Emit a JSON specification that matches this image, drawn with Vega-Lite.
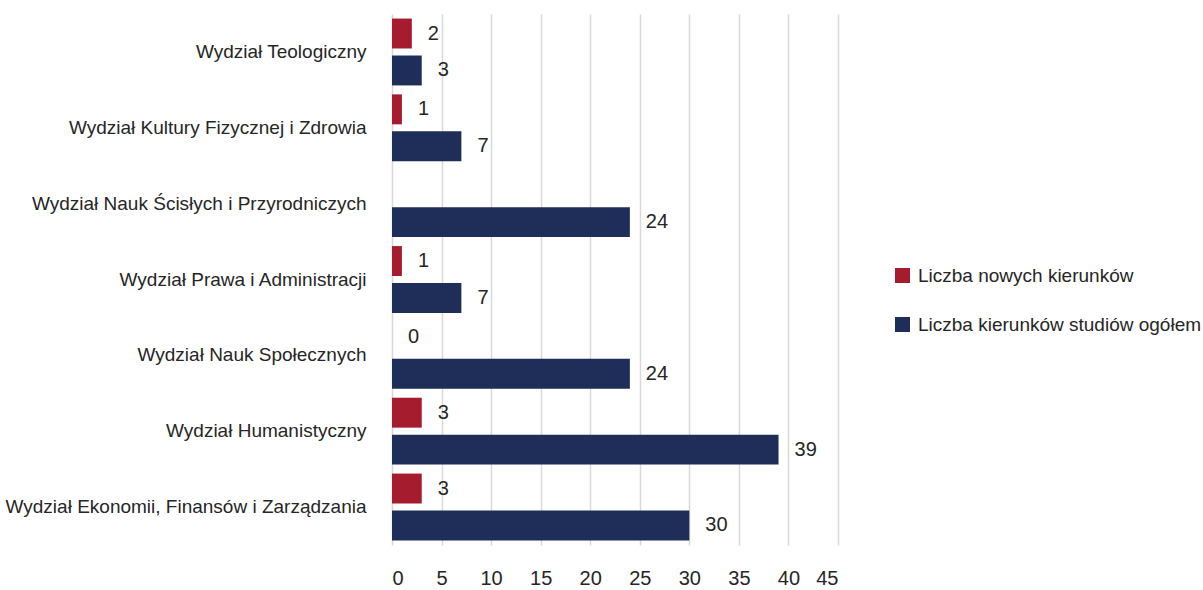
{
  "$schema": "https://vega.github.io/schema/vega-lite/v6.json",
  "width": 446,
  "height": 531,
  "autosize": "none",
  "padding": {"left": 392, "top": 14, "right": 365, "bottom": 45},
  "background": "white",
  "config": {
    "font": "Liberation Sans",
    "view": {"stroke": null}
  },
  "data": {
    "values": [
      {"wydzial": "Wydział Teologiczny", "seria": "Liczba nowych kierunków", "wartosc": 2},
      {"wydzial": "Wydział Teologiczny", "seria": "Liczba kierunków studiów ogółem", "wartosc": 3},
      {"wydzial": "Wydział Kultury Fizycznej i Zdrowia", "seria": "Liczba nowych kierunków", "wartosc": 1},
      {"wydzial": "Wydział Kultury Fizycznej i Zdrowia", "seria": "Liczba kierunków studiów ogółem", "wartosc": 7},
      {"wydzial": "Wydział Nauk Ścisłych i Przyrodniczych", "seria": "Liczba kierunków studiów ogółem", "wartosc": 24},
      {"wydzial": "Wydział Prawa i Administracji", "seria": "Liczba nowych kierunków", "wartosc": 1},
      {"wydzial": "Wydział Prawa i Administracji", "seria": "Liczba kierunków studiów ogółem", "wartosc": 7},
      {"wydzial": "Wydział Nauk Społecznych", "seria": "Liczba nowych kierunków", "wartosc": 0},
      {"wydzial": "Wydział Nauk Społecznych", "seria": "Liczba kierunków studiów ogółem", "wartosc": 24},
      {"wydzial": "Wydział Humanistyczny", "seria": "Liczba nowych kierunków", "wartosc": 3},
      {"wydzial": "Wydział Humanistyczny", "seria": "Liczba kierunków studiów ogółem", "wartosc": 39},
      {"wydzial": "Wydział Ekonomii, Finansów i Zarządzania", "seria": "Liczba nowych kierunków", "wartosc": 3},
      {"wydzial": "Wydział Ekonomii, Finansów i Zarządzania", "seria": "Liczba kierunków studiów ogółem", "wartosc": 30}
    ]
  },
  "encoding": {
    "y": {
      "field": "wydzial",
      "type": "nominal",
      "sort": null,
      "title": null,
      "scale": {"paddingInner": 0.118, "paddingOuter": 0.06},
      "axis": {
        "domain": false,
        "ticks": false,
        "labelFontSize": 19,
        "labelColor": "#262626",
        "labelPadding": 26,
        "labelLimit": 400
      }
    },
    "yOffset": {
      "field": "seria",
      "type": "nominal",
      "sort": ["Liczba nowych kierunków", "Liczba kierunków studiów ogółem"],
      "scale": {"paddingInner": 0.19, "paddingOuter": 0}
    },
    "x": {
      "field": "wartosc",
      "type": "quantitative",
      "title": null,
      "scale": {"domain": [0, 45], "nice": false},
      "axis": {
        "values": [0, 5, 10, 15, 20, 25, 30, 35, 40, 45],
        "domain": false,
        "ticks": false,
        "grid": true,
        "gridColor": "#d9d9d9",
        "gridWidth": 1.5,
        "labelFontSize": 20,
        "labelColor": "#262626",
        "labelPadding": 23
      }
    },
    "color": {
      "field": "seria",
      "type": "nominal",
      "sort": ["Liczba nowych kierunków", "Liczba kierunków studiów ogółem"],
      "scale": {
        "domain": ["Liczba nowych kierunków", "Liczba kierunków studiów ogółem"],
        "range": ["#A51C2F", "#1F2D59"]
      },
      "legend": {
        "title": null,
        "orient": "none",
        "legendX": 501,
        "legendY": 252,
        "symbolType": "square",
        "symbolSize": 225,
        "symbolStrokeWidth": 0,
        "labelFontSize": 19,
        "labelColor": "#262626",
        "labelOffset": 6,
        "rowPadding": 29,
        "labelLimit": 400
      }
    }
  },
  "layer": [
    {"mark": {"type": "bar"}},
    {
      "mark": {"type": "text", "align": "left", "baseline": "middle", "dx": 16, "fontSize": 20, "color": "#262626"},
      "encoding": {
        "text": {"field": "wartosc", "type": "quantitative"},
        "color": {"value": "#262626"}
      }
    }
  ]
}
